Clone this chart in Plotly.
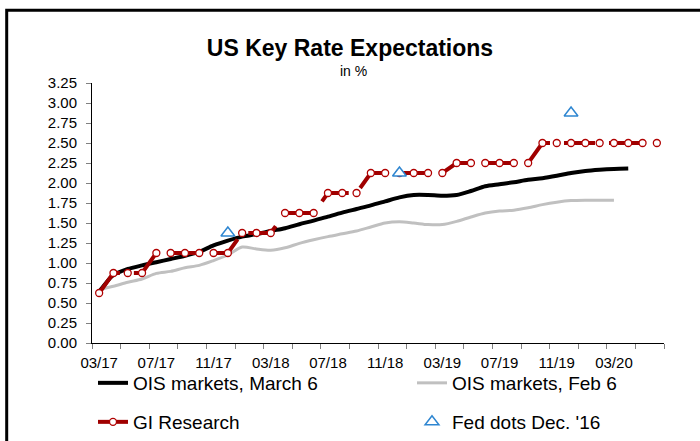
import plotly.graph_objects as go

# ---- data -------------------------------------------------------------
months = ["03/17", "04/17", "05/17", "06/17", "07/17", "08/17", "09/17", "10/17",
          "11/17", "12/17", "01/18", "02/18", "03/18", "04/18", "05/18", "06/18",
          "07/18", "08/18", "09/18", "10/18", "11/18", "12/18", "01/19", "02/19",
          "03/19", "04/19", "05/19", "06/19", "07/19", "08/19", "09/19", "10/19",
          "11/19", "12/19", "01/20", "02/20", "03/20", "04/20", "05/20", "06/20"]

tick_labels = ["03/17", "07/17", "11/17", "03/18", "07/18", "11/18",
               "03/19", "07/19", "11/19", "03/20"]

ois_march6 = [0.64, 0.85, 0.925, 0.97, 1.01, 1.05, 1.09, 1.14, 1.22, 1.28,
              1.33, 1.36, 1.40, 1.435, 1.485, 1.53, 1.58, 1.63, 1.675, 1.72,
              1.77, 1.82, 1.85, 1.85, 1.84, 1.85, 1.90, 1.96, 1.985, 2.01,
              2.04, 2.06, 2.09, 2.125, 2.15, 2.165, 2.175, 2.18]

ois_feb6 = [0.67, 0.71, 0.76, 0.80, 0.87, 0.895, 0.94, 0.97, 1.03, 1.10,
            1.20, 1.175, 1.16, 1.19, 1.245, 1.29, 1.33, 1.365, 1.40, 1.45,
            1.50, 1.515, 1.50, 1.48, 1.48, 1.52, 1.575, 1.625, 1.65, 1.66,
            1.69, 1.73, 1.76, 1.78, 1.785, 1.785, 1.785]

gi_research = [0.625, 0.875, 0.875, 0.875, 1.125, 1.125, 1.125, 1.125, 1.125, 1.125,
               1.375, 1.375, 1.375, 1.625, 1.625, 1.625, 1.875, 1.875, 1.875, 2.125,
               2.125, 2.125, 2.125, 2.125, 2.125, 2.25, 2.25, 2.25, 2.25, 2.25,
               2.25, 2.5, 2.5, 2.5, 2.5, 2.5, 2.5, 2.5, 2.5, 2.5]

fed_months = ["12/17", "12/18", "12/19"]
fed_dots = [1.375, 2.125, 2.875]

# ---- positions derived from the categories ----------------------------
idx = list(range(len(months)))
tick_pos = [months.index(m) for m in tick_labels]
fed_pos = [months.index(m) for m in fed_months]

FONT = "Liberation Sans, Arial, sans-serif"

fig = go.Figure()

fig.add_trace(go.Scatter(
    x=idx[:len(ois_feb6)], y=ois_feb6, mode="lines", name="OIS markets, Feb 6",
    line=dict(color="#C0C0C0", width=3, shape="spline", smoothing=0.8),
    legend="legend2", showlegend=True, hoverinfo="skip"))

fig.add_trace(go.Scatter(
    x=idx[:len(ois_march6)], y=ois_march6, mode="lines", name="OIS markets, March 6",
    line=dict(color="#000000", width=4, shape="spline", smoothing=0.8),
    legend="legend", showlegend=True, hoverinfo="skip"))

fig.add_trace(go.Scatter(
    x=idx[:len(gi_research)], y=gi_research, mode="lines+markers", name="GI Research",
    line=dict(color="#A00000", width=4, dash="31px,14px"),
    marker=dict(symbol="circle", size=7, color="white",
                line=dict(color="#B00000", width=1.3)),
    legend="legend3", showlegend=True, hoverinfo="skip"))

fig.add_trace(go.Scatter(
    x=fed_pos, y=fed_dots, mode="markers", name="Fed dots Dec. '16",
    marker=dict(symbol="triangle-up", size=12, color="white",
                line=dict(color="#2E86D1", width=1.5)),
    legend="legend4", showlegend=True, hoverinfo="skip"))

L, R, T, B = 92, 36, 83, 98
W, H = 700, 441
pw, ph = W - L - R, H - T - B


def px_x(px):
    return (px - L) / pw


def px_y(py):
    return (H - B - py) / ph


leg_common = dict(orientation="h", xanchor="left", yanchor="middle", visible=True,
                  bgcolor="rgba(0,0,0,0)", font=dict(family=FONT, size=19, color="#000000"),
                  itemwidth=30)

fig.update_layout(
    width=W, height=H,
    margin=dict(l=L, r=R, t=T, b=B, autoexpand=False),
    showlegend=True,
    paper_bgcolor="white", plot_bgcolor="white",
    font=dict(family=FONT, color="#000000"),
    title=dict(text="<b>US Key Rate Expectations</b>", x=0.5, xref="container",
               xanchor="center", y=1 - 48 / H, yref="container", yanchor="middle",
               font=dict(family=FONT, size=23, color="#000000")),
    xaxis=dict(range=[-0.5, len(months) - 0.5], tickmode="array", tickvals=tick_pos,
               ticktext=tick_labels, ticks="", showline=True, linecolor="#000000",
               linewidth=1, showgrid=False, zeroline=False,
               tickfont=dict(family=FONT, size=15, color="#000000"),
               ticklabelstandoff=6,
               minor=dict(tickmode="linear", tick0=-0.5, dtick=2, ticks="outside",
                          ticklen=5, tickcolor="#808080", tickwidth=1, showgrid=False)),
    yaxis=dict(range=[0, 3.25], tickmode="linear", tick0=0, dtick=0.25, tickformat=".2f",
               ticks="outside", ticklen=5, tickcolor="#808080", showline=True,
               linecolor="#000000", linewidth=1, showgrid=False, zeroline=False,
               tickfont=dict(family=FONT, size=15, color="#000000"),
               ticklabelstandoff=6),
    legend=dict(x=px_x(93), y=px_y(383), **leg_common),
    legend2=dict(x=px_x(412), y=px_y(383), **leg_common),
    legend3=dict(x=px_x(93), y=px_y(422), **leg_common),
    legend4=dict(x=px_x(412), y=px_y(422), **leg_common),
    annotations=[dict(text="in %", x=px_x(353), y=px_y(71), xref="paper", yref="paper",
                      showarrow=False, xanchor="center", yanchor="middle",
                      font=dict(family=FONT, size=14, color="#000000"))],
    shapes=[dict(type="rect", xref="paper", yref="paper",
                 x0=px_x(6.7), x1=1.3, y0=-0.8, y1=px_y(10.3),
                 line=dict(color="#000000", width=3), layer="below")],
)

fig.write_html(
    "out.html",
    config={"displayModeBar": False, "staticPlot": True},
    post_script="document.body.style.margin='0';document.body.style.padding='0';"
                "document.body.style.overflow='hidden';")
